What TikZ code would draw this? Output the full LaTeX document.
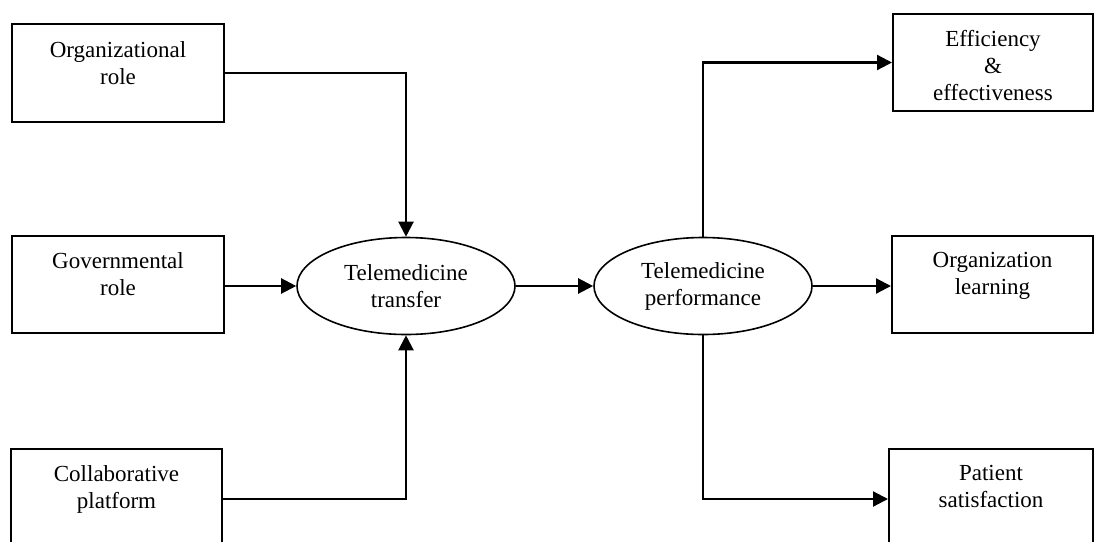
\documentclass[tikz,border=0pt]{standalone}
\usepackage{fontspec}
\setmainfont{Liberation Serif}
\usetikzlibrary{shapes.geometric,arrows.meta}

\begin{document}
\begin{tikzpicture}[x=1pt,y=-1pt,
  every node/.style={font=\fontsize{23}{27}\selectfont},
  factorbox/.style={draw,line width=2pt,rectangle,inner sep=0pt},
  stage/.style={draw,line width=1.6pt,ellipse,inner sep=0pt,
    minimum width=218pt,minimum height=97pt,align=center},
  caption/.style={align=center,anchor=north,inner sep=0pt},
  link/.style={line width=2.2pt,-{Triangle[length=15pt,width=15pt]}}]

\useasboundingbox (0,0) rectangle (1094,541);

% drivers on the left
\node[factorbox,minimum width=212pt,minimum height=98pt] (org) at (118,73) {};
\node[caption] (orgtxt) at ([yshift=-18pt]org.north) {Organizational\\role};

\node[factorbox,minimum width=212pt,minimum height=97pt] (gov) at (118,284.5) {};
\node[caption] (govtxt) at ([yshift=-17pt]gov.north) {Governmental\\role};

\node[factorbox,minimum width=211pt,minimum height=100pt] (collab) at (116.5,499) {};
\node[caption] (collabtxt) at ([yshift=-17pt]collab.north) {Collaborative\\platform};

% central stages
\node[stage] (transfer) at (406,286) {Telemedicine\\transfer};
\node[stage] (perf) at (703,286) {Telemedicine\\performance};

% outcomes on the right
\node[factorbox,minimum width=200pt,minimum height=97pt] (eff) at (993,62.5) {};
\node[caption] (efftxt) at ([yshift=-17pt]eff.north) {Efficiency\\\&\\effectiveness};

\node[factorbox,minimum width=201pt,minimum height=97pt] (learn) at (992.5,284.5) {};
\node[caption] (learntxt) at ([yshift=-17pt]learn.north) {Organization\\learning};

\node[factorbox,minimum width=204pt,minimum height=100pt] (patient) at (991,499) {};
\node[caption] (patienttxt) at ([yshift=-17pt]patient.north) {Patient\\satisfaction};

% connectors
\draw[link] (org.east) -| (transfer.north);
\draw[link] (gov.east |- transfer.west) -- (transfer.west);
\draw[link] (collab.east) -| (transfer.south);
\draw[link] (transfer.east) -- (perf.west);
\draw[link] (perf.north) |- (eff.west);
\draw[link] (perf.east) -- (perf.east -| learn.west);
\draw[link] (perf.south) |- (patient.west);

\end{tikzpicture}
\end{document}
